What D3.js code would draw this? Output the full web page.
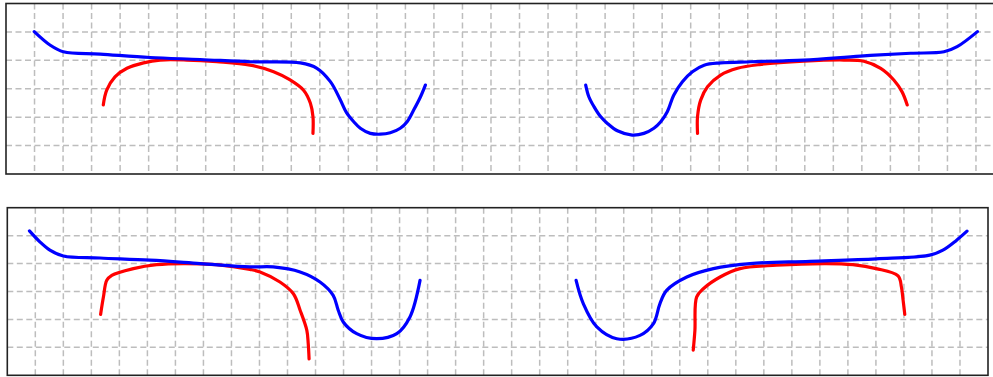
<!DOCTYPE html>
<html>
<head>
<meta charset="utf-8">
<script src="https://cdn.jsdelivr.net/npm/d3@7"></script>
<style>
  html, body { margin: 0; padding: 0; background: #fff; }
  svg { display: block; }
</style>
</head>
<body>
<svg id="chart" width="993" height="377"></svg>
<script>
// Grid extent in cell units (35 columns x 6 rows) shared by both panels
const xCells = [0, 35];
const yCells = [0, 6];
const xGrid = d3.range(1, 35);
const yGrid = d3.range(1, 6);

// Upper panel: smooth curves, [x, y] in cell units (y measured from bottom)
const upperBlueLeft = [
  [0.99, 5.01], [1.54, 4.54], [2.01, 4.30], [3.30, 4.22], [5.05, 4.10],
  [6.81, 4.03], [8.56, 3.95], [10.32, 3.91], [10.90, 3.72], [11.37, 3.25],
  [11.70, 2.65], [11.93, 2.17], [12.19, 1.84], [12.42, 1.61], [12.77, 1.43],
  [13.12, 1.40], [13.47, 1.45], [13.82, 1.61], [14.06, 1.84], [14.29, 2.25],
  [14.53, 2.72], [14.70, 3.13]
];
const upperRedLeft = [
  [3.41, 2.43], [3.53, 2.95], [3.82, 3.42], [4.24, 3.72], [4.82, 3.91],
  [5.40, 4.01], [6.34, 4.01], [7.39, 3.95], [8.56, 3.83], [9.38, 3.60],
  [9.96, 3.31], [10.43, 2.95], [10.67, 2.49], [10.76, 2.02], [10.76, 1.43]
];
const upperBlueRight = [
  [20.32, 3.13], [20.43, 2.72], [20.61, 2.37], [20.84, 2.02], [21.08, 1.78],
  [21.43, 1.52], [21.95, 1.37], [22.36, 1.43], [22.71, 1.61], [22.95, 1.84],
  [23.18, 2.19], [23.41, 2.78], [23.71, 3.25], [24.06, 3.60], [24.47, 3.83],
  [25.05, 3.91], [26.11, 3.95], [27.96, 4.01], [29.95, 4.15], [31.71, 4.25],
  [32.88, 4.30], [33.34, 4.48], [34.05, 5.01]
];
const upperRedRight = [
  [24.24, 1.43], [24.24, 2.02], [24.35, 2.60], [24.59, 3.07], [25.05, 3.48],
  [25.64, 3.72], [26.40, 3.85], [27.96, 3.97], [29.37, 4.01], [30.07, 3.97],
  [30.66, 3.72], [31.12, 3.31], [31.41, 2.89], [31.59, 2.43]
];

// Lower panel: coarser traces of the same shapes
const lowerBlueLeft = [
  [0.79, 5.17], [1.17, 4.77], [1.52, 4.48], [2.00, 4.27], [3.31, 4.20],
  [5.09, 4.12], [6.88, 4.00], [8.66, 3.88], [9.49, 3.88], [10.45, 3.70],
  [11.16, 3.34], [11.63, 2.86], [11.81, 2.33], [11.99, 1.91], [12.47, 1.49],
  [13.18, 1.31], [13.90, 1.49], [14.37, 2.09], [14.73, 3.40]
];
const lowerRedLeft = [
  [3.33, 2.18], [3.43, 2.80], [3.55, 3.40], [3.73, 3.58], [4.50, 3.82],
  [5.33, 3.96], [6.28, 4.00], [7.47, 3.96], [8.66, 3.79], [9.02, 3.70],
  [9.73, 3.34], [10.21, 2.92], [10.45, 2.33], [10.69, 1.61], [10.74, 1.13],
  [10.77, 0.59]
];
const lowerBlueRight = [
  [20.30, 3.40], [20.56, 2.56], [21.04, 1.73], [21.75, 1.31], [22.58, 1.43],
  [23.06, 1.85], [23.29, 2.56], [23.53, 3.04], [24.25, 3.52], [25.20, 3.82],
  [26.51, 4.00], [28.64, 4.08], [31.01, 4.17], [32.92, 4.30], [33.39, 4.48],
  [33.87, 4.83], [34.25, 5.16]
];
const lowerRedRight = [
  [24.48, 0.90], [24.54, 1.61], [24.60, 2.80], [24.84, 3.10], [25.44, 3.52],
  [26.15, 3.82], [27.45, 3.94], [29.23, 4.00], [30.18, 3.96], [31.01, 3.82],
  [31.79, 3.56], [31.91, 3.16], [31.97, 2.69], [32.03, 2.18]
];

const blue = "#0000ff";
const red = "#ff0000";

const svg = d3.select("#chart");

function drawPanel(box, series, curve) {
  const x = d3.scaleLinear().domain(xCells).range([box.left, box.right]);
  const y = d3.scaleLinear().domain(yCells).range([box.bottom, box.top]);
  const g = svg.append("g");

  g.append("rect")
    .attr("x", box.left).attr("y", box.top)
    .attr("width", box.right - box.left).attr("height", box.bottom - box.top)
    .attr("fill", "#fff");

  const grid = g.append("g")
    .attr("stroke", "#bdbdbd")
    .attr("stroke-width", 1.5)
    .attr("stroke-dasharray", "6,3.5");

  grid.selectAll("line.v").data(xGrid).join("line")
    .attr("class", "v")
    .attr("x1", d => x(d)).attr("x2", d => x(d))
    .attr("y1", box.top).attr("y2", box.bottom);

  grid.selectAll("line.h").data(yGrid).join("line")
    .attr("class", "h")
    .attr("x1", box.left).attr("x2", box.right)
    .attr("y1", d => y(d)).attr("y2", d => y(d));

  const line = d3.line().x(d => x(d[0])).y(d => y(d[1])).curve(curve);

  g.selectAll("path.trace").data(series).join("path")
    .attr("class", "trace")
    .attr("d", d => line(d.points))
    .attr("fill", "none")
    .attr("stroke", d => d.color)
    .attr("stroke-width", 3.2)
    .attr("stroke-linecap", "round")
    .attr("stroke-linejoin", "round");

  g.append("rect")
    .attr("x", box.left).attr("y", box.top)
    .attr("width", box.right - box.left).attr("height", box.bottom - box.top)
    .attr("fill", "none")
    .attr("stroke", "#222")
    .attr("stroke-width", 1.6);
}

drawPanel(
  { left: 6, right: 1004.5, top: 3.5, bottom: 174 },
  [
    { color: red, points: upperRedLeft },
    { color: red, points: upperRedRight },
    { color: blue, points: upperBlueLeft },
    { color: blue, points: upperBlueRight }
  ],
  d3.curveCatmullRom.alpha(0.5)
);

drawPanel(
  { left: 7.3, right: 988, top: 207.7, bottom: 375.3 },
  [
    { color: red, points: lowerRedLeft },
    { color: red, points: lowerRedRight },
    { color: blue, points: lowerBlueLeft },
    { color: blue, points: lowerBlueRight }
  ],
  d3.curveCatmullRom.alpha(0.5)
);
</script>
</body>
</html>
